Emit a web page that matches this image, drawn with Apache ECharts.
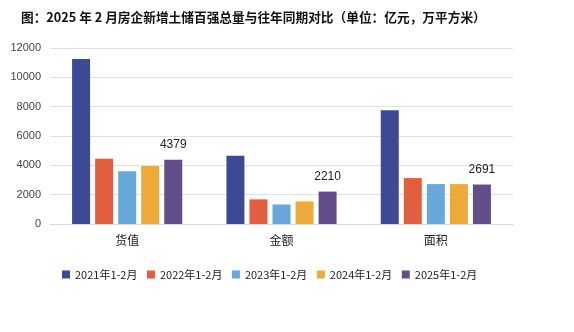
<!DOCTYPE html>
<html><head><meta charset="utf-8">
<script src="https://cdn.jsdelivr.net/npm/echarts@6/dist/echarts.min.js"></script>
<style>html,body{margin:0;padding:0;background:#fff}#c{width:574px;height:332px}</style>
</head><body><div id="c"></div>
<script>
const titleText = '图：2025 年 2 月房企新增土储百强总量与往年同期对比（单位：亿元，万平方米）';
const categories = ['货值', '金额', '面积'];
const seriesNames = ['2021年1-2月', '2022年1-2月', '2023年1-2月', '2024年1-2月', '2025年1-2月'];
const v2021 = [11250, 4650, 7750];
const v2022 = [4450, 1680, 3130];
const v2023 = [3600, 1330, 2720];
const v2024 = [3950, 1540, 2720];
const v2025 = [4379, 2210, 2691];
const colors = ['#3B4A92', '#E15F3F', '#67A7D9', '#EEA93B', '#634D8A'];
const yTicks = [0, 2000, 4000, 6000, 8000, 10000, 12000];

const allValues = [v2021, v2022, v2023, v2024, v2025];
const chart = echarts.init(document.getElementById('c'));
chart.setOption({
  animation: false,
  color: colors,
  title: {
    text: titleText, left: 16, top: 6,
    textStyle: {fontFamily: 'Noto Sans CJK SC', fontWeight: 'bold', fontSize: 12.7, color: '#111'}
  },
  legend: {
    data: seriesNames, left: 57, top: 264, itemWidth: 8, itemHeight: 8, itemGap: 9.5,
    icon: 'rect',
    textStyle: {fontFamily: 'Noto Sans CJK SC', fontSize: 11, color: '#222'}
  },
  grid: {left: 50, right: 61, top: 48, bottom: 108, containLabel: false},
  xAxis: {
    type: 'category', data: categories,
    axisLine: {lineStyle: {color: '#d9d9d9'}}, axisTick: {show: false},
    axisLabel: {fontFamily: 'Noto Sans CJK SC', fontSize: 12, color: '#222', margin: 10}
  },
  yAxis: {
    type: 'value', min: yTicks[0], max: yTicks[yTicks.length - 1], interval: 2000,
    axisLine: {show: false}, axisTick: {show: false},
    splitLine: {lineStyle: {color: '#e0e0e0'}},
    axisLabel: {fontFamily: 'Liberation Sans', fontSize: 11, color: '#444', margin: 9, formatter: v => String(v)}
  },
  series: seriesNames.map((n, i) => ({
    name: n, type: 'bar', data: allValues[i], barWidth: 18, barGap: '28%',
    label: i === 4 ? {show: true, position: 'top', distance: 9, fontFamily: 'Liberation Sans', fontSize: 12, color: '#222'} : {show: false}
  }))
});
</script></body></html>
